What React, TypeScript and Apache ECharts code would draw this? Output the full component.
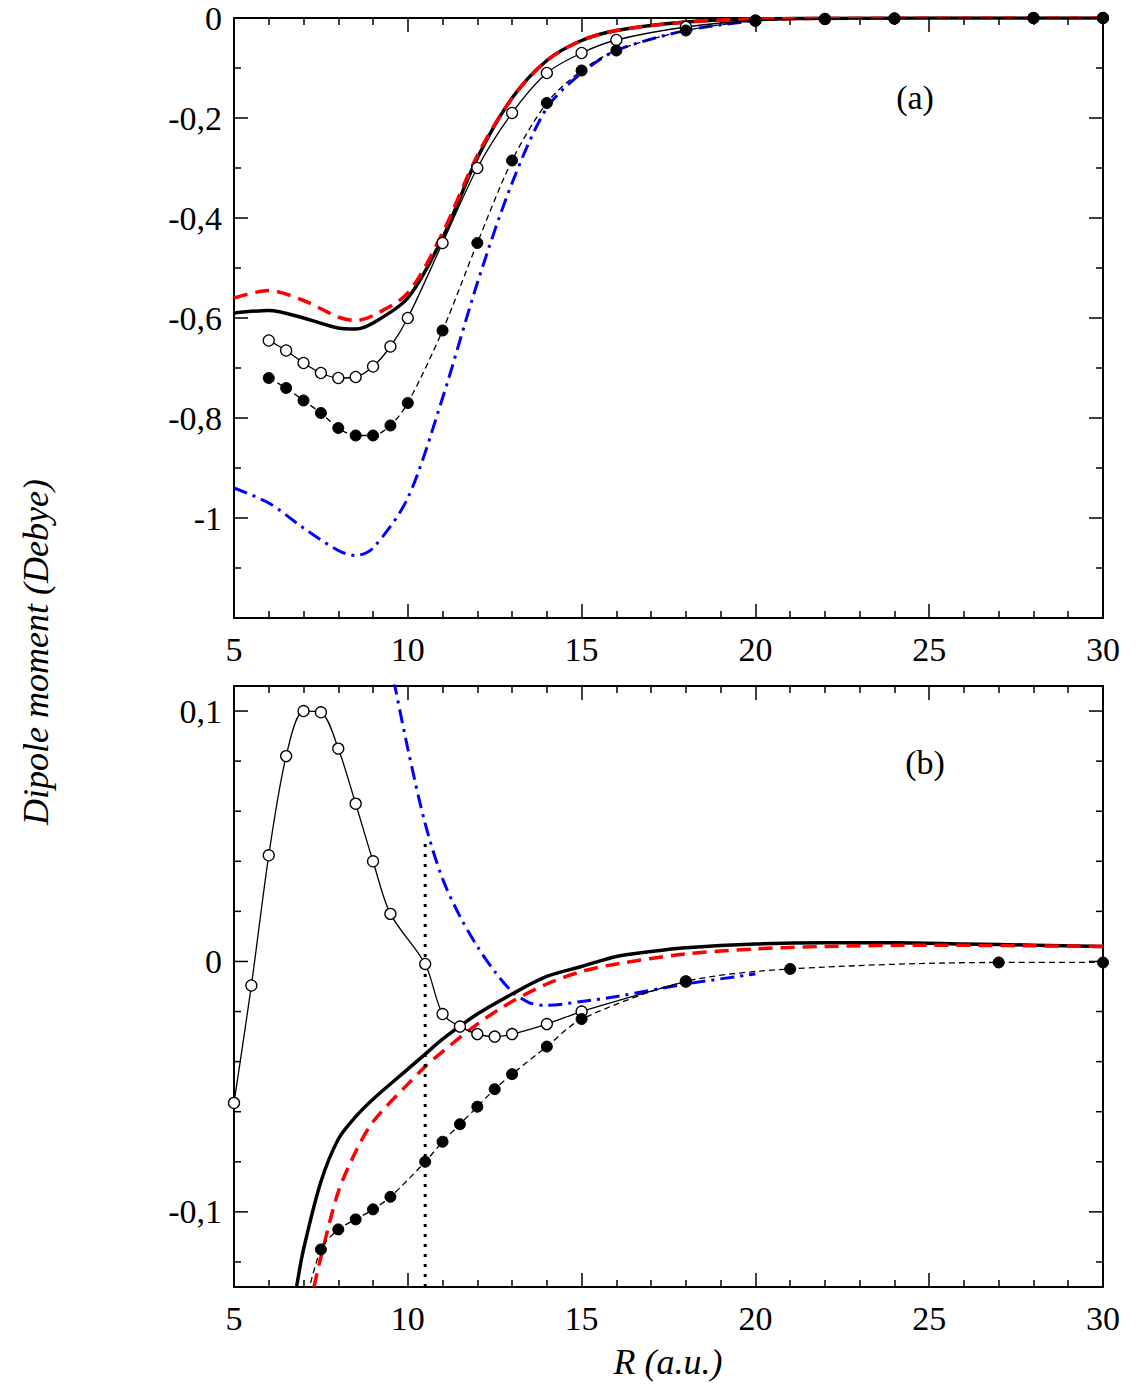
import * as echarts from "echarts";
import { useEffect, useRef } from "react";

// ---- panel (a) data ----
const aRed = [[5, -0.56], [6, -0.545], [7, -0.565], [8, -0.598], [8.5, -0.605], [9, -0.595], [10, -0.55], [11, -0.43], [12, -0.275], [13, -0.16], [14, -0.085], [15, -0.045], [16, -0.025], [18, -0.008], [20, -0.002], [25, 0], [30, 0]];
const aBlack = [[5, -0.59], [6, -0.585], [7, -0.6], [8, -0.62], [8.5, -0.622], [9, -0.61], [10, -0.56], [11, -0.44], [12, -0.28], [13, -0.16], [14, -0.085], [15, -0.045], [16, -0.025], [18, -0.008], [20, -0.002], [25, 0], [30, 0]];
const aOpen = [[6, -0.645], [6.5, -0.665], [7, -0.69], [7.5, -0.71], [8, -0.72], [8.5, -0.718], [9, -0.697], [9.5, -0.657], [10, -0.6], [11, -0.45], [12, -0.3], [13, -0.19], [14, -0.11], [15, -0.07], [16, -0.044], [18, -0.018], [20, -0.005], [22, -0.002], [24, -0.001], [28, 0], [30, 0]];
const aFilled = [[6, -0.72], [6.5, -0.74], [7, -0.765], [7.5, -0.79], [8, -0.82], [8.5, -0.835], [9, -0.835], [9.5, -0.815], [10, -0.77], [11, -0.625], [12, -0.45], [13, -0.285], [14, -0.17], [15, -0.105], [16, -0.065], [18, -0.025], [20, -0.006], [22, -0.002], [24, -0.001], [28, 0], [30, 0]];
const aBlue = [[5, -0.94], [6, -0.97], [7, -1.02], [8, -1.065], [8.5, -1.075], [9, -1.06], [10, -0.96], [11, -0.76], [12, -0.53], [13, -0.33], [14, -0.18], [15, -0.11], [16, -0.065], [18, -0.025], [20, -0.005]];

// ---- panel (b) data ----
const bBlack = [[6.8, -0.13], [7, -0.115], [7.5, -0.088], [8, -0.071], [8.5, -0.062], [9, -0.055], [10, -0.043], [10.5, -0.037], [11, -0.031], [12, -0.021], [13, -0.013], [14, -0.006], [15, -0.002], [16, 0.002], [17, 0.004], [18, 0.0055], [20, 0.007], [22, 0.0075], [24, 0.0075], [26, 0.007], [28, 0.0065], [30, 0.006]];
const bRed = [[7.3, -0.13], [7.5, -0.118], [8, -0.092], [8.5, -0.076], [9, -0.064], [10, -0.049], [10.5, -0.042], [11, -0.036], [12, -0.025], [13, -0.016], [14, -0.009], [15, -0.004], [16, -0.001], [18, 0.003], [20, 0.005], [22, 0.006], [25, 0.0065], [30, 0.006]];
const bOpen = [[5, -0.0565], [5.5, -0.0096], [6, 0.0424], [6.5, 0.082], [7, 0.1], [7.5, 0.0995], [8, 0.085], [8.5, 0.063], [9, 0.04], [9.5, 0.019], [10.5, -0.001], [11, -0.021], [11.5, -0.026], [12, -0.029], [12.5, -0.03], [13, -0.029], [14, -0.025], [15, -0.02], [18, -0.008]];
const bFilled = [[7, -0.14], [7.5, -0.115], [8, -0.107], [8.5, -0.103], [9, -0.099], [9.5, -0.094], [10.5, -0.08], [11, -0.072], [11.5, -0.065], [12, -0.058], [12.5, -0.051], [13, -0.045], [14, -0.034], [15, -0.023], [18, -0.008], [21, -0.003], [27, -0.0004], [30, -0.0004]];
const bBlue = [[9.6, 0.112], [10, 0.085], [10.5, 0.055], [11, 0.033], [11.5, 0.018], [12, 0.006], [12.5, -0.004], [13, -0.012], [13.5, -0.0165], [14, -0.0175], [15, -0.016], [16, -0.014], [18, -0.009], [20, -0.005]];
const bDotted = [[10.5, -0.13], [10.5, 0.049]];
const bTicks = [-0.12, -0.1, -0.08, -0.06, -0.04, -0.02, 0, 0.02, 0.04, 0.06, 0.08, 0.1];

// tick labels
const xLabels = [5, 10, 15, 20, 25, 30];
const aYLabels = [0, -0.2, -0.4, -0.6, -0.8, -1];
const bYLabels = [0.1, 0, -0.1];

const FONT = "Liberation Serif";
const RED = "#ff0000";
const BLUE = "#0000ff";

const comma = (v: number) => String(v).replace(".", ",");

const xAxisBase = (gridIndex: number, pos: "bottom" | "top") => ({
  type: "value" as const,
  gridIndex,
  position: pos,
  min: 5,
  max: 30,
  interval: 5,
  axisLine: { onZero: false, lineStyle: { color: "#000", width: 2 } },
  axisTick: { inside: true, length: 14, lineStyle: { color: "#000", width: 1.5 } },
  minorTick: { show: true, splitNumber: 5, length: 7, lineStyle: { color: "#000", width: 1.5 } },
  splitLine: { show: false },
  axisLabel: { show: false },
});

const lineSeries = (
  xi: number,
  data: number[][],
  color: string,
  width: number,
  type: any,
  symbol: "none" | "open" | "filled" = "none"
) => ({
  type: "line",
  xAxisIndex: xi,
  yAxisIndex: xi,
  data,
  smooth: 0.3,
  symbol: symbol === "none" ? "none" : "circle",
  symbolSize: 11,
  showSymbol: symbol !== "none",
  itemStyle:
    symbol === "open"
      ? { color: "#fff", borderColor: "#000", borderWidth: 1.3 }
      : { color: "#000", borderColor: "#000", borderWidth: 1 },
  lineStyle: { color, width, type },
  z: symbol === "none" ? 2 : 3,
});

// text labels drawn through the axes' own coordinates
const labelSeries = (gi: number, data: number[], axis: "x" | "y", fixed: number) => ({
  type: "custom",
  xAxisIndex: gi,
  yAxisIndex: gi,
  data,
  silent: true,
  clip: false,
  renderItem: (_p: any, api: any) => {
    const v = api.value(0);
    const pt = axis === "x" ? api.coord([v, fixed]) : api.coord([fixed, v]);
    return {
      type: "text",
      x: axis === "x" ? pt[0] : pt[0] - 12,
      y: axis === "x" ? pt[1] + 14 : pt[1],
      style: {
        text: comma(v),
        fontFamily: FONT,
        fontSize: 34,
        fill: "#000",
        align: axis === "x" ? "center" : "right",
        verticalAlign: axis === "x" ? "top" : "middle",
      },
    };
  },
});

export default function App() {
  const ref = useRef<HTMLDivElement | null>(null);

  useEffect(() => {
    document.body.style.margin = "0";
    if (!ref.current) return;
    const chart = echarts.init(ref.current, null, { renderer: "svg" });
    chart.setOption({
      animation: false,
      backgroundColor: "#fff",
      textStyle: { fontFamily: FONT },
      grid: [
        { left: 234, top: 18, width: 869, height: 600 },
        { left: 234, top: 686, width: 869, height: 601 },
      ],
      xAxis: [xAxisBase(0, "bottom"), xAxisBase(1, "bottom"), xAxisBase(0, "top"), xAxisBase(1, "top")],
      yAxis: [0, 1, 0, 1].map((g, i) => {
        const right = i >= 2;
        if (g === 0) {
          return {
            type: "value",
            gridIndex: 0,
            position: right ? "right" : "left",
            min: -1.2,
            max: 0,
            interval: 0.2,
            axisLine: { onZero: false, lineStyle: { color: "#000", width: 2 } },
            axisTick: { inside: true, length: 14, lineStyle: { color: "#000", width: 1.5 } },
            minorTick: { show: true, splitNumber: 2, length: 7, lineStyle: { color: "#000", width: 1.5 } },
            splitLine: { show: false },
            axisLabel: { show: false },
          };
        }
        return {
          type: "value",
          gridIndex: 1,
          position: right ? "right" : "left",
          min: -0.13,
          max: 0.11,
          interval: 0.01,
          axisLine: { onZero: false, lineStyle: { color: "#000", width: 2 } },
          axisTick: { show: false },
          splitLine: { show: false },
          axisLabel: { show: false },
        };
      }),
      series: [
        lineSeries(0, aBlue, BLUE, 3, [14, 6, 3, 6]),
        lineSeries(0, aBlack, "#000", 3.5, "solid"),
        lineSeries(0, aRed, RED, 3.5, [14, 8]),
        lineSeries(0, aOpen, "#000", 1.3, "solid", "open"),
        lineSeries(0, aFilled, "#000", 1.3, [6, 4], "filled"),
        lineSeries(1, bBlue, BLUE, 3, [14, 6, 3, 6]),
        lineSeries(1, bBlack, "#000", 3.5, "solid"),
        lineSeries(1, bRed, RED, 3.5, [14, 8]),
        lineSeries(1, bOpen, "#000", 1.3, "solid", "open"),
        {
          ...lineSeries(1, bFilled, "#000", 1.3, [6, 4], "filled"),
          data: bFilled.map((p, i) => (i === 0 ? { value: p, symbol: "none" } : p)),
        },
        { ...lineSeries(1, bDotted, "#000", 3, [3, 7]), smooth: false },
        {
          type: "custom",
          xAxisIndex: 1,
          yAxisIndex: 1,
          data: bTicks,
          renderItem: (params: any, api: any) => {
            const v = api.value(0);
            const major = Math.abs(Math.round(v * 100) % 10) === 0;
            const len = major ? 14 : 7;
            const l = api.coord([5, v]);
            const r = api.coord([30, v]);
            const st = { stroke: "#000", lineWidth: 1.5 };
            return {
              type: "group",
              children: [
                { type: "line", shape: { x1: l[0], y1: l[1], x2: l[0] + len, y2: l[1] }, style: st },
                { type: "line", shape: { x1: r[0], y1: r[1], x2: r[0] - len, y2: r[1] }, style: st },
              ],
            };
          },
          encode: { y: 0 },
          silent: true,
        },
        labelSeries(0, xLabels, "x", -1.2),
        labelSeries(1, xLabels, "x", -0.13),
        labelSeries(0, aYLabels, "y", 5),
        labelSeries(1, bYLabels, "y", 5),
      ],
      graphic: [
        {
          type: "text",
          x: 36,
          y: 652,
          rotation: Math.PI / 2,
          style: {
            text: "Dipole moment (Debye)",
            fontFamily: FONT,
            fontStyle: "italic",
            fontSize: 36,
            fill: "#000",
            align: "center",
            verticalAlign: "middle",
          },
        },
        {
          type: "text",
          x: 668,
          y: 1362,
          style: {
            text: "R (a.u.)",
            fontFamily: FONT,
            fontStyle: "italic",
            fontSize: 36,
            fill: "#000",
            align: "center",
            verticalAlign: "middle",
          },
        },
        {
          type: "text",
          x: 915,
          y: 97,
          style: { text: "(a)", fontFamily: FONT, fontSize: 34, fill: "#000", align: "center", verticalAlign: "middle" },
        },
        {
          type: "text",
          x: 925,
          y: 762,
          style: { text: "(b)", fontFamily: FONT, fontSize: 34, fill: "#000", align: "center", verticalAlign: "middle" },
        },
      ],
    });
    return () => chart.dispose();
  }, []);

  return <div ref={ref} style={{ width: 1136, height: 1385 }} />;
}
